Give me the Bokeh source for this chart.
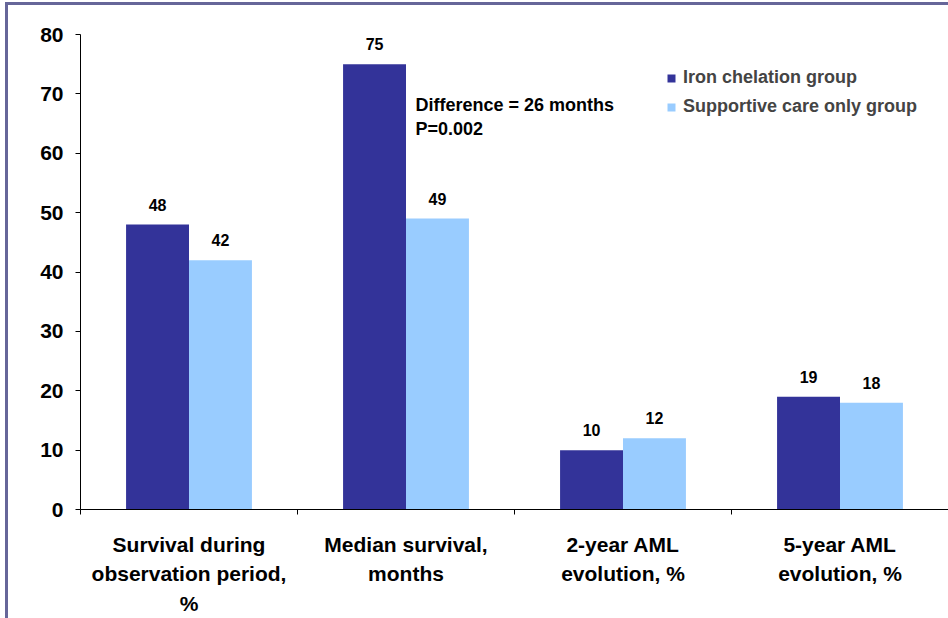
import numpy as np
from bokeh.plotting import figure
from bokeh.models import ColumnDataSource, FixedTicker, Legend, LegendItem, Label
from bokeh.core.properties import value
from bokeh.embed import file_html
from bokeh.resources import INLINE

categories = ["Survival during\nobservation period,\n%",
              "Median survival,\nmonths",
              "2-year AML\nevolution, %",
              "5-year AML\nevolution, %"]
iron_chelation = [48, 75, 10, 19]
supportive_care = [42, 49, 12, 18]
series_names = ["Iron chelation group", "Supportive care only group"]
y_ticks = [0, 10, 20, 30, 40, 50, 60, 70, 80]
note_lines = ["Difference = 26 months", "P=0.002"]

DARK = "#333399"
LIGHT = "#99CCFF"
FRAME = "#666699"
FONT = "Liberation Sans"

centers = np.arange(len(categories)) + 0.5
bar_w = 0.29

src = ColumnDataSource(dict(
    x1=centers - bar_w / 2, x2=centers + bar_w / 2,
    a=iron_chelation, b=supportive_care,
    la=[str(v) for v in iron_chelation], lb=[str(v) for v in supportive_care],
))

p = figure(width=948, height=618, output_backend="svg", toolbar_location=None,
           frame_width=868, frame_height=475,
           x_range=(0, len(categories)), y_range=(0, 80),
           min_border_left=80, min_border_right=0, min_border_top=34, min_border_bottom=109)
p.outline_line_color = None
p.xgrid.visible = False
p.ygrid.visible = False
p.background_fill_color = "white"
p.border_fill_color = None
p.styles = {
    "background-color": "white",
    "background-image": f"linear-gradient({FRAME},{FRAME}), linear-gradient({FRAME},{FRAME})",
    "background-size": "3px 100%, 100% 3px",
    "background-position": "5px 2px, 5px 2px",
    "background-repeat": "no-repeat",
}

r1 = p.vbar(x="x1", top="a", width=bar_w, bottom=0, source=src, fill_color=DARK, line_color=None)
r2 = p.vbar(x="x2", top="b", width=bar_w, bottom=0, source=src, fill_color=LIGHT, line_color=None)

for xcol, ycol, tcol in (("x1", "a", "la"), ("x2", "b", "lb")):
    p.text(x=xcol, y=ycol, text=tcol, source=src, text_align="center", text_baseline="bottom",
           y_offset=-14, text_font=value(FONT), text_font_style="bold", text_font_size="16px",
           text_color="black")

# y axis
ya = p.yaxis[0]
ya.ticker = FixedTicker(ticks=y_ticks, minor_ticks=[])
ya.major_tick_in = 0
ya.major_tick_out = 5
ya.minor_tick_out = 0
ya.axis_line_color = "black"
ya.major_label_text_font = FONT
ya.major_label_text_font_style = "bold"
ya.major_label_text_font_size = "21px"
ya.major_label_text_color = "black"
ya.major_label_standoff = 12

# x axis
xa = p.xaxis[0]
xa.ticker = FixedTicker(ticks=list(centers), minor_ticks=list(np.arange(len(categories) + 1)))
xa.major_label_overrides = {float(c): lab for c, lab in zip(centers, categories)}
xa.major_tick_in = 0
xa.major_tick_out = 0
xa.minor_tick_in = 0
xa.minor_tick_out = 5
xa.axis_line_color = "black"
xa.major_label_text_font = FONT
xa.major_label_text_font_style = "bold"
xa.major_label_text_font_size = "21px"
xa.major_label_text_color = "black"
xa.major_label_text_line_height = 1.3
xa.major_label_standoff = 18

legend = Legend(items=[LegendItem(label=series_names[0], renderers=[r1]),
                       LegendItem(label=series_names[1], renderers=[r2])],
                location=(586, 392), glyph_width=10, glyph_height=10,
                label_standoff=7, spacing=8, padding=0, margin=0,
                label_text_font=FONT, label_text_font_style="bold",
                label_text_font_size="18px", label_height=20,
                border_line_color=None, background_fill_alpha=0)
p.add_layout(legend)

for i, line in enumerate(note_lines):
    p.add_layout(Label(x=1.544, y=68.2 - i * 4.05, text=line, text_align="left",
                       text_baseline="middle", text_font=FONT, text_font_style="bold",
                       text_font_size="18px", text_color="black"))

open("out.html", "w").write(file_html(p, INLINE))
